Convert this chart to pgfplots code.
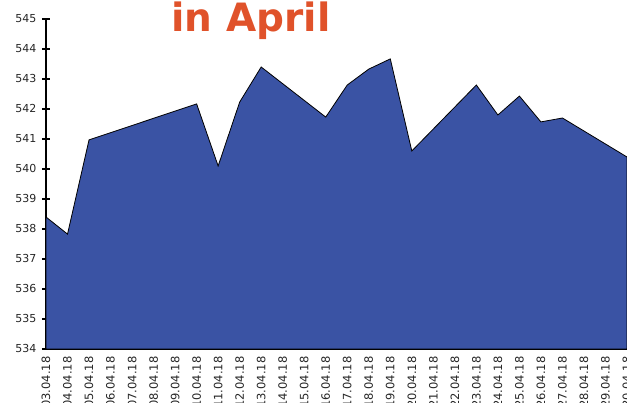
\documentclass[border=0pt]{standalone}
\usepackage{fontspec}
\setmainfont{DejaVu Sans}
\usepackage{pgfplots}
\pgfplotsset{compat=1.18}
\definecolor{areablue}{HTML}{3A53A4}
\definecolor{titleorange}{HTML}{E0522A}
\begin{document}
\begin{tikzpicture}
\useasboundingbox (0pt,0pt) rectangle (627pt,403pt);
\begin{axis}[
  at={(46pt,54pt)}, anchor=south west,
  scale only axis, width=581pt, height=330pt,
  xmin=0, xmax=27, ymin=534, ymax=545,
  axis x line*=bottom, axis y line*=left,
  x axis line style={line width=1.3pt},
  y axis line style={line width=2.2pt},
  ytick={534,...,545},
  xtick={0,...,27},
  xticklabels={03.04.18,04.04.18,05.04.18,06.04.18,07.04.18,08.04.18,09.04.18,10.04.18,11.04.18,12.04.18,13.04.18,14.04.18,15.04.18,16.04.18,17.04.18,18.04.18,19.04.18,20.04.18,21.04.18,22.04.18,23.04.18,24.04.18,25.04.18,26.04.18,27.04.18,28.04.18,29.04.18,30.04.18},
  xtick style={draw=none},
  ytick style={line width=1.3pt, black},
  tick align=center, major tick length=8pt,
  /pgf/number format/assume math mode=true,
  yticklabel style={font=\fontsize{11}{13}\selectfont, text=black!85, xshift=-2pt},
  xticklabel style={font=\fontsize{11.5}{13}\selectfont, text=black!85, rotate=90, anchor=east},
  y tick label style={/pgf/number format/.cd, fixed, 1000 sep={}},
]
\addplot[fill=areablue, draw=black, line width=0.8pt] coordinates {
(0,538.40) (1,537.83) (2,540.97) (7,542.17) (8,540.10) (9,542.23) (10,543.40)
(13,541.73) (14,542.80) (15,543.33) (16,543.67) (17,540.60) (20,542.80)
(21,541.80) (22,542.43) (23,541.57) (24,541.70) (27,540.40)
} \closedcycle;
\end{axis}
\node[anchor=base, text=titleorange, font=\bfseries\fontsize{39}{41}\selectfont] at (251pt,371pt) {in April};
\end{tikzpicture}
\end{document}
